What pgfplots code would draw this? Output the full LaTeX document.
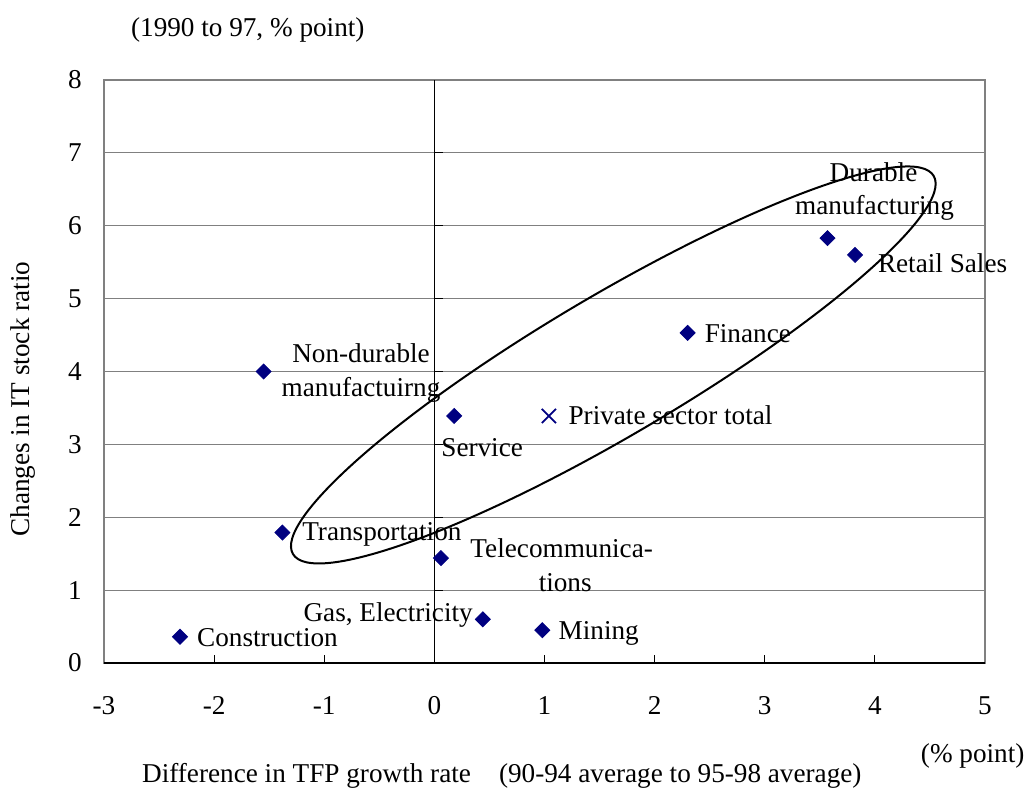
\documentclass[border=0pt]{standalone}
\usepackage{fontspec}
\setmainfont{Liberation Serif}
\usepackage{pgfplots}
\usepackage{pgfplotstable}
\pgfplotsset{compat=1.18}
\definecolor{navy}{RGB}{0,0,128}
\definecolor{gridgray}{RGB}{128,128,128}

\pgfplotstableread{
x y
-2.31 0.36
-1.38 1.79
-1.55 4.00
0.18 3.39
0.06 1.44
0.44 0.60
0.98 0.45
2.30 4.53
3.57 5.83
3.82 5.60
}\sectors

\begin{document}
\begin{tikzpicture}[font=\fontsize{13.6}{16}\selectfont]
\begin{axis}[
 at={(0,0)}, anchor=south west,
 scale only axis, width=440.5pt, height=291.5pt,
 xmin=-3, xmax=5, ymin=0, ymax=8,
 xtick={-3,-2,-1,0,1,2,3,4,5}, xticklabels={-3,-2,-1,0,1,2,3,4,5},
 ytick={0,1,2,3,4,5,6,7,8}, yticklabels={0,1,2,3,4,5,6,7,8},
 ymajorgrids, grid style={gridgray, line width=0.5pt},
 axis line style={gridgray, line width=0.8pt},
 tick align=inside, xtick pos=left, ytick pos=left, major tick length=4pt,
 xtick style={black, line width=0.5pt},
 ytick style={draw=none},
 xticklabel style={inner sep=0pt, anchor=north, yshift=-16.5pt},
 yticklabel style={inner sep=0pt, anchor=east, xshift=-11pt},
 clip=false,
]
\addplot[only marks, color=navy, mark=square*, mark size=2.65pt,
  mark options={rotate=45, fill=navy, draw=navy}] table {\sectors};
\addplot[only marks, color=navy, mark=x, mark size=5pt,
  mark options={line width=0.9pt}] coordinates {(1.04,3.39)};

\draw[black, line width=0.5pt] (axis cs:0,0) -- (axis cs:0,8);
\pgfplotsinvokeforeach{1,2,3,4,5,6,7}{\draw[black, line width=0.5pt] (axis cs:0,#1) -- ++(4.5pt,0pt);}
\draw[black, line width=0.75pt] (axis cs:-3,0) -- (axis cs:5,0);

\begin{scope}[every node/.style={inner sep=0pt}]
\node[anchor=base] at (axis cs:3.988,6.603) {Durable};
\node[anchor=base] at (axis cs:3.997,6.150) {manufacturing};
\node[anchor=base west] at (axis cs:4.025,5.353) {Retail Sales};
\node[anchor=base west] at (axis cs:2.452,4.393) {Finance};
\node[anchor=base] at (axis cs:-0.666,4.118) {Non-durable};
\node[anchor=base] at (axis cs:-0.666,3.651) {manufactuirng};
\node[anchor=base] at (axis cs:0.434,2.828) {Service};
\node[anchor=base west] at (axis cs:1.215,3.267) {Private sector total};
\node[anchor=base west] at (axis cs:-1.203,1.675) {Transportation};
\node[anchor=base] at (axis cs:1.156,1.441) {Telecommunica-};
\node[anchor=base] at (axis cs:1.188,0.975) {tions};
\node[anchor=base east] at (axis cs:0.352,0.563) {Gas, Electricity};
\node[anchor=base west] at (axis cs:1.125,0.316) {Mining};
\node[anchor=base west] at (axis cs:-2.157,0.233) {Construction};
\node[anchor=center] at (axis cs:-1.694,8.689) {(1990 to 97, \% point)};
\node[anchor=center, rotate=90] at (axis cs:-3.74,3.62) {Changes in IT stock ratio};
\node[anchor=base west] at (axis cs:-2.657,-1.633) {Difference in TFP growth rate\hspace{14pt}(90-94 average to 95-98 average)};
\node[anchor=base west] at (axis cs:4.415,-1.359) {(\% point)};
\end{scope}
\coordinate (ec) at (axis cs:1.625,4.09);
\end{axis}
\draw[line width=1pt, rotate around={30.55:(ec)}] (ec) ellipse [x radius=186pt, y radius=35pt];
\pgfresetboundingbox
\path (-52pt,-62pt) rectangle (461.5pt,331.5pt);
\end{tikzpicture}
\end{document}
